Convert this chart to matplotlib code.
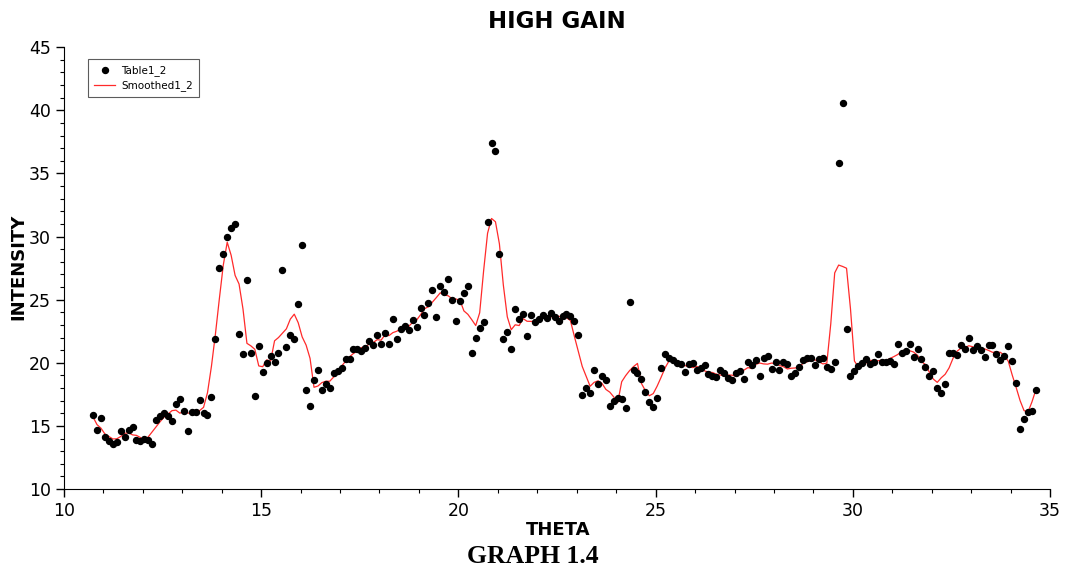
import matplotlib
matplotlib.use("Agg")
import matplotlib.pyplot as plt
import numpy as np
from matplotlib.ticker import MultipleLocator

# theta values: 240 readings, 0.1 apart, from 10.74
theta_start = 10.74
theta_step = 0.1

table1_2 = [
    15.9, 14.7, 15.6, 14.1, 13.8, 13.6, 13.75, 14.6, 14.15, 14.7,
    14.9, 13.9, 13.8, 13.95, 13.85, 13.6, 15.5, 15.8, 16.0, 15.8,
    15.4, 16.7, 17.15, 16.2, 14.6, 16.07, 16.07, 17.07, 16.0, 15.9,
    17.3, 21.9, 27.5, 28.6, 29.95, 30.7, 31.0, 22.3, 20.66, 26.55,
    20.8, 17.4, 21.3, 19.3, 19.95, 20.5, 20.1, 20.8, 27.35, 21.27,
    22.2, 21.85, 24.65, 29.3, 17.84, 16.6, 18.6, 19.4, 17.84, 18.34,
    17.97, 19.16, 19.37, 19.55, 20.3, 20.3, 21.1, 21.1, 20.9, 21.2,
    21.7, 21.4, 22.2, 21.5, 22.35, 21.5, 23.5, 21.9, 22.7, 22.9,
    22.6, 23.4, 22.8, 24.3, 23.8, 24.7, 25.8, 23.6, 26.1, 25.6,
    26.6, 24.96, 23.3, 24.9, 25.5, 26.1, 20.74, 21.98, 22.75, 23.2,
    31.14, 37.4, 36.8, 28.6, 21.9, 22.4, 21.06, 24.25, 23.5, 23.86,
    22.1, 23.8, 23.2, 23.43, 23.78, 23.57, 23.96, 23.6, 23.3, 23.7,
    23.86, 23.67, 23.33, 22.2, 17.44, 17.97, 17.6, 19.4, 18.3, 18.97,
    18.6, 16.6, 16.99, 17.18, 17.1, 16.44, 24.8, 19.4, 19.16, 18.7,
    17.7, 16.9, 16.47, 17.2, 19.55, 20.66, 20.4, 20.2, 19.95, 19.87,
    19.3, 19.9, 19.95, 19.4, 19.55, 19.8, 19.08, 18.95, 18.9, 19.4,
    19.16, 18.76, 18.63, 19.2, 19.34, 18.73, 20.03, 19.8, 20.2, 18.95,
    20.4, 20.53, 19.47, 20.1, 19.4, 20.1, 19.9, 18.95, 19.2, 19.7,
    20.2, 20.34, 20.34, 19.8, 20.3, 20.37, 19.63, 19.47, 20.08, 35.84,
    40.6, 22.7, 18.95, 19.37, 19.74, 19.95, 20.3, 19.9, 20.08, 20.66,
    20.08, 20.08, 20.16, 19.9, 21.5, 20.8, 20.95, 21.46, 20.48, 21.1,
    20.27, 19.66, 18.95, 19.34, 18.02, 17.6, 18.34, 20.74, 20.74, 20.58,
    21.38, 21.1, 21.98, 20.98, 21.32, 20.98, 20.45, 21.38, 21.38, 20.72,
    20.2, 20.53, 21.32, 20.13, 18.4, 14.77, 15.57, 16.12, 16.17, 17.86,
]

smoothed1_2 = [
    15.7, 15.1, 14.82, 14.36, 14.17, 13.97, 13.98, 14.16, 14.42, 14.45,
    14.29, 14.25, 14.08, 13.82, 14.14, 14.54, 14.95, 15.34, 15.7, 15.94,
    16.21, 16.25, 16.01, 16.14, 16.02, 16.0, 15.96, 16.22, 16.47, 17.63,
    19.72, 22.24, 25.05, 27.73, 29.55, 28.51, 26.92, 26.24, 24.26, 21.54,
    21.34, 21.07, 19.75, 19.69, 20.23, 20.13, 21.74, 22.0, 22.34, 22.69,
    23.46, 23.85, 23.17, 22.05, 21.4, 20.35, 18.06, 18.16, 18.43, 18.54,
    18.54, 18.88, 19.27, 19.74, 20.12, 20.47, 20.74, 20.92, 21.2, 21.26,
    21.48, 21.6, 21.83, 21.79, 22.21, 22.15, 22.39, 22.5, 22.72, 22.7,
    22.88, 23.2, 23.38, 23.8, 24.28, 24.44, 24.8, 25.16, 25.54, 25.37,
    25.31, 25.07, 25.05, 24.95, 24.11, 23.84, 23.41, 22.95, 23.96, 27.29,
    30.26, 31.43, 31.17, 29.42, 26.15, 23.64, 22.62, 23.01, 22.95, 23.5,
    23.29, 23.28, 23.26, 23.56, 23.59, 23.67, 23.64, 23.63, 23.68, 23.63,
    23.57, 23.35, 22.1, 20.92, 19.71, 18.92, 18.14, 18.45, 18.57, 18.37,
    17.89, 17.67, 17.29, 16.86, 18.5, 18.98, 19.38, 19.7, 19.95, 18.37,
    17.79, 17.39, 17.56, 18.16, 18.86, 19.6, 20.15, 20.22, 19.94, 19.84,
    19.79, 19.68, 19.62, 19.72, 19.56, 19.36, 19.26, 19.23, 19.1, 19.03,
    18.97, 19.03, 19.02, 18.93, 19.19, 19.42, 19.62, 19.54, 19.88, 19.98,
    19.91, 19.89, 19.98, 19.92, 19.79, 19.69, 19.51, 19.57, 19.59, 19.68,
    19.96, 20.08, 20.2, 20.23, 20.09, 19.91, 19.97, 23.08, 27.12, 27.74,
    27.63, 27.49, 24.27, 20.14, 19.66, 19.85, 19.99, 20.18, 20.2, 20.16,
    20.21, 20.18, 20.34, 20.49, 20.66, 20.92, 21.04, 20.96, 20.85, 20.59,
    20.09, 19.86, 19.25, 18.71, 18.45, 18.81, 19.09, 19.6, 20.36, 20.91,
    21.16, 21.2, 21.35, 21.27, 21.14, 21.02, 21.1, 20.98, 20.83, 20.84,
    20.83, 20.58, 20.12, 19.03, 18.04, 17.0, 16.21, 16.1, 16.9, 17.86,
]

theta = theta_start + theta_step * np.arange(len(table1_2))

fig = plt.figure(figsize=(10.65, 5.68), dpi=100)
ax = fig.add_axes([0.060, 0.139, 0.926, 0.778])

ax.plot(theta, table1_2, 'o', color='black', markersize=4.3, label='Table1_2', zorder=3)
ax.plot(theta, smoothed1_2, '-', color='#ff2a2a', linewidth=0.9, label='Smoothed1_2', zorder=2)

ax.set_xlim(10, 35)
ax.set_ylim(10, 45)
ax.xaxis.set_major_locator(MultipleLocator(5))
ax.xaxis.set_minor_locator(MultipleLocator(1))
ax.yaxis.set_major_locator(MultipleLocator(5))
ax.yaxis.set_minor_locator(MultipleLocator(1))
ax.tick_params(which='major', length=6, width=1, labelsize=12.5, direction='out')
ax.tick_params(which='minor', length=3, width=0.8, direction='out')

for side in ['top', 'right']:
    ax.spines[side].set_visible(False)

ax.set_title('HIGH GAIN', fontsize=16.5, fontweight='bold', pad=14)
ax.set_xlabel('THETA', fontsize=13, fontweight='bold')
ax.xaxis.set_label_coords(0.501, -0.072)
ax.set_ylabel('INTENSITY', fontsize=13, fontweight='bold')
ax.yaxis.set_label_coords(-0.037, 0.502)

leg = ax.legend(loc='upper left', bbox_to_anchor=(0.019, 0.985), fontsize=7.5,
                frameon=True, fancybox=False, edgecolor='#333333',
                handlelength=2.0, handletextpad=0.6, borderpad=0.6, labelspacing=0.4)
leg.get_frame().set_linewidth(0.8)

fig.text(0.50, 0.0, 'GRAPH 1.4', family='Liberation Serif', fontweight='bold',
         fontsize=18.5, ha='center', va='bottom')

fig.savefig('out.png', dpi=100)
